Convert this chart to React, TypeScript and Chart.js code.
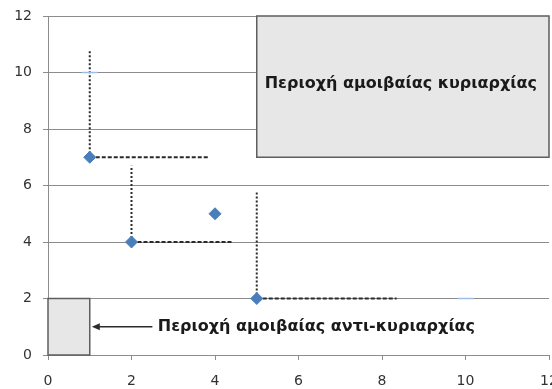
import React, { useEffect, useRef } from 'react';
import { Chart, registerables } from 'chart.js';

Chart.register(...registerables);

// Axis range and tick step (both axes 0..12, step 2)
const axisMin = 0;
const axisMax = 12;
const tickStep = 2;

// Solutions plotted as diamonds
const solutionX = [1, 2, 4, 5];
const solutionY = [7, 4, 5, 2];

// Faint reference marks
const faintX = [1, 10];
const faintY = [10, 2];

// Dotted vertical guides: [x, yFrom, yTo]
const verticalGuides = [
  [1, 7, 10.8],
  [2, 4, 6.7],
  [5, 2, 5.75],
];

// Dashed horizontal guides: [y, xFrom, xTo]
const horizontalGuides = [
  [7, 1, 3.85],
  [4, 2, 4.4],
  [2, 5, 8.35],
];

// Shaded regions: [xMin, yMin, xMax, yMax]
const dominanceRegion = [5, 7, 12, 12];
const antiDominanceRegion = [0, 0, 1, 2];

const dominanceLabel = 'Περιοχή αμοιβαίας κυριαρχίας';
const antiDominanceLabel = 'Περιοχή αμοιβαίας αντι-κυριαρχίας';

// Arrow from the label to the small region: [xFrom, xTo, y]
const arrowLine = [2.5, 1.05, 1];
const antiLabelX = 2.63;

const LABEL_FONT = 'bold 16px "DejaVu Sans"';

const regionsPlugin = {
  id: 'regions',
  beforeDatasetsDraw(chart: any) {
    const { ctx } = chart;
    const xs = chart.scales.x;
    const ys = chart.scales.y;

    const drawRegion = (r: number[]) => {
      const l = xs.getPixelForValue(r[0]);
      const b = ys.getPixelForValue(r[1]);
      const rr = xs.getPixelForValue(r[2]);
      const t = ys.getPixelForValue(r[3]);
      ctx.save();
      ctx.fillStyle = '#e7e7e7';
      ctx.fillRect(l, t, rr - l, b - t);
      ctx.strokeStyle = '#5e5e5e';
      ctx.lineWidth = 1.5;
      ctx.strokeRect(l, t, rr - l, b - t);
      ctx.restore();
    };
    drawRegion(dominanceRegion);
    drawRegion(antiDominanceRegion);

    ctx.save();
    ctx.font = LABEL_FONT;
    ctx.fillStyle = '#1a1a1a';
    ctx.textBaseline = 'middle';
    ctx.textAlign = 'center';
    const cx = (xs.getPixelForValue(dominanceRegion[0]) + xs.getPixelForValue(dominanceRegion[2])) / 2;
    const cy = (ys.getPixelForValue(dominanceRegion[1]) + ys.getPixelForValue(dominanceRegion[3])) / 2;
    ctx.fillText(dominanceLabel, cx - 2, cy - 3);

    ctx.textAlign = 'left';
    ctx.fillText(antiDominanceLabel, xs.getPixelForValue(antiLabelX), ys.getPixelForValue(arrowLine[2]));

    // arrow
    const ax0 = xs.getPixelForValue(arrowLine[0]);
    const ax1 = xs.getPixelForValue(arrowLine[1]);
    const ay = ys.getPixelForValue(arrowLine[2]);
    ctx.strokeStyle = '#2b2b2b';
    ctx.lineWidth = 1.5;
    ctx.beginPath();
    ctx.moveTo(ax0, ay);
    ctx.lineTo(ax1 + 6, ay);
    ctx.stroke();
    ctx.fillStyle = '#2b2b2b';
    ctx.beginPath();
    ctx.moveTo(ax1, ay);
    ctx.lineTo(ax1 + 8, ay - 3.5);
    ctx.lineTo(ax1 + 8, ay + 3.5);
    ctx.closePath();
    ctx.fill();
    ctx.restore();
  },
};

export default function App() {
  const canvasRef = useRef<HTMLCanvasElement | null>(null);

  useEffect(() => {
    if (!canvasRef.current) return;

    const guideSets: any[] = [
      ...verticalGuides.map((g) => ({
        data: [{ x: g[0], y: g[1] }, { x: g[0], y: g[2] }],
        showLine: true,
        borderColor: '#2a2a2a',
        borderWidth: 2,
        borderDash: [2, 2],
        pointRadius: 0,
        order: 3,
      })),
      ...horizontalGuides.map((g) => ({
        data: [{ x: g[1], y: g[0] }, { x: g[2], y: g[0] }],
        showLine: true,
        borderColor: '#2a2a2a',
        borderWidth: 2,
        borderDash: [4, 2],
        pointRadius: 0,
        order: 3,
      })),
    ];

    const tickFont = { family: 'DejaVu Sans', size: 14 };

    const chart = new Chart(canvasRef.current, {
      type: 'scatter',
      data: {
        datasets: [
          ...guideSets,
          {
            data: faintX.map((x, i) => ({ x, y: faintY[i] })),
            pointStyle: 'line',
            pointRadius: 8,
            borderColor: '#9dbde6',
            borderWidth: 1.5,
            order: 2,
          },
          {
            data: solutionX.map((x, i) => ({ x, y: solutionY[i] })),
            pointStyle: 'rectRot',
            pointRadius: 6,
            backgroundColor: '#4a7ebb',
            borderColor: '#4a7ebb',
            borderWidth: 1,
            order: 1,
          },
        ],
      },
      options: {
        responsive: false,
        animation: false,
        layout: { autoPadding: false, padding: { top: 16, right: 3, left: 0, bottom: 0 } },
        plugins: { legend: { display: false }, tooltip: { enabled: false } },
        scales: {
          x: {
            type: 'linear',
            min: axisMin,
            max: axisMax,
            ticks: { stepSize: tickStep, color: '#333333', font: tickFont, padding: 13, maxRotation: 0 },
            grid: { drawOnChartArea: false, drawTicks: true, tickLength: 5, color: '#8c8c8c' },
            border: { display: true, color: '#8c8c8c', width: 1 },
            afterFit(scale: any) {
              scale.height = 34;
              scale.paddingLeft = 0;
              scale.paddingRight = 0;
            },
          },
          y: {
            type: 'linear',
            min: axisMin,
            max: axisMax,
            ticks: { stepSize: tickStep, color: '#333333', font: tickFont, padding: 11 },
            grid: { drawOnChartArea: true, drawTicks: true, tickLength: 5, color: '#8c8c8c', lineWidth: 1 },
            border: { display: true, color: '#8c8c8c', width: 1 },
            afterFit(scale: any) {
              scale.width = 48;
              scale.paddingTop = 0;
              scale.paddingBottom = 0;
            },
          },
        },
      },
      plugins: [regionsPlugin],
    });

    return () => chart.destroy();
  }, []);

  return (
    <div style={{ position: 'absolute', left: 0, top: 0, width: 552, height: 389, background: '#fff' }}>
      <canvas ref={canvasRef} width={552} height={389} style={{ display: 'block' }} />
    </div>
  );
}
